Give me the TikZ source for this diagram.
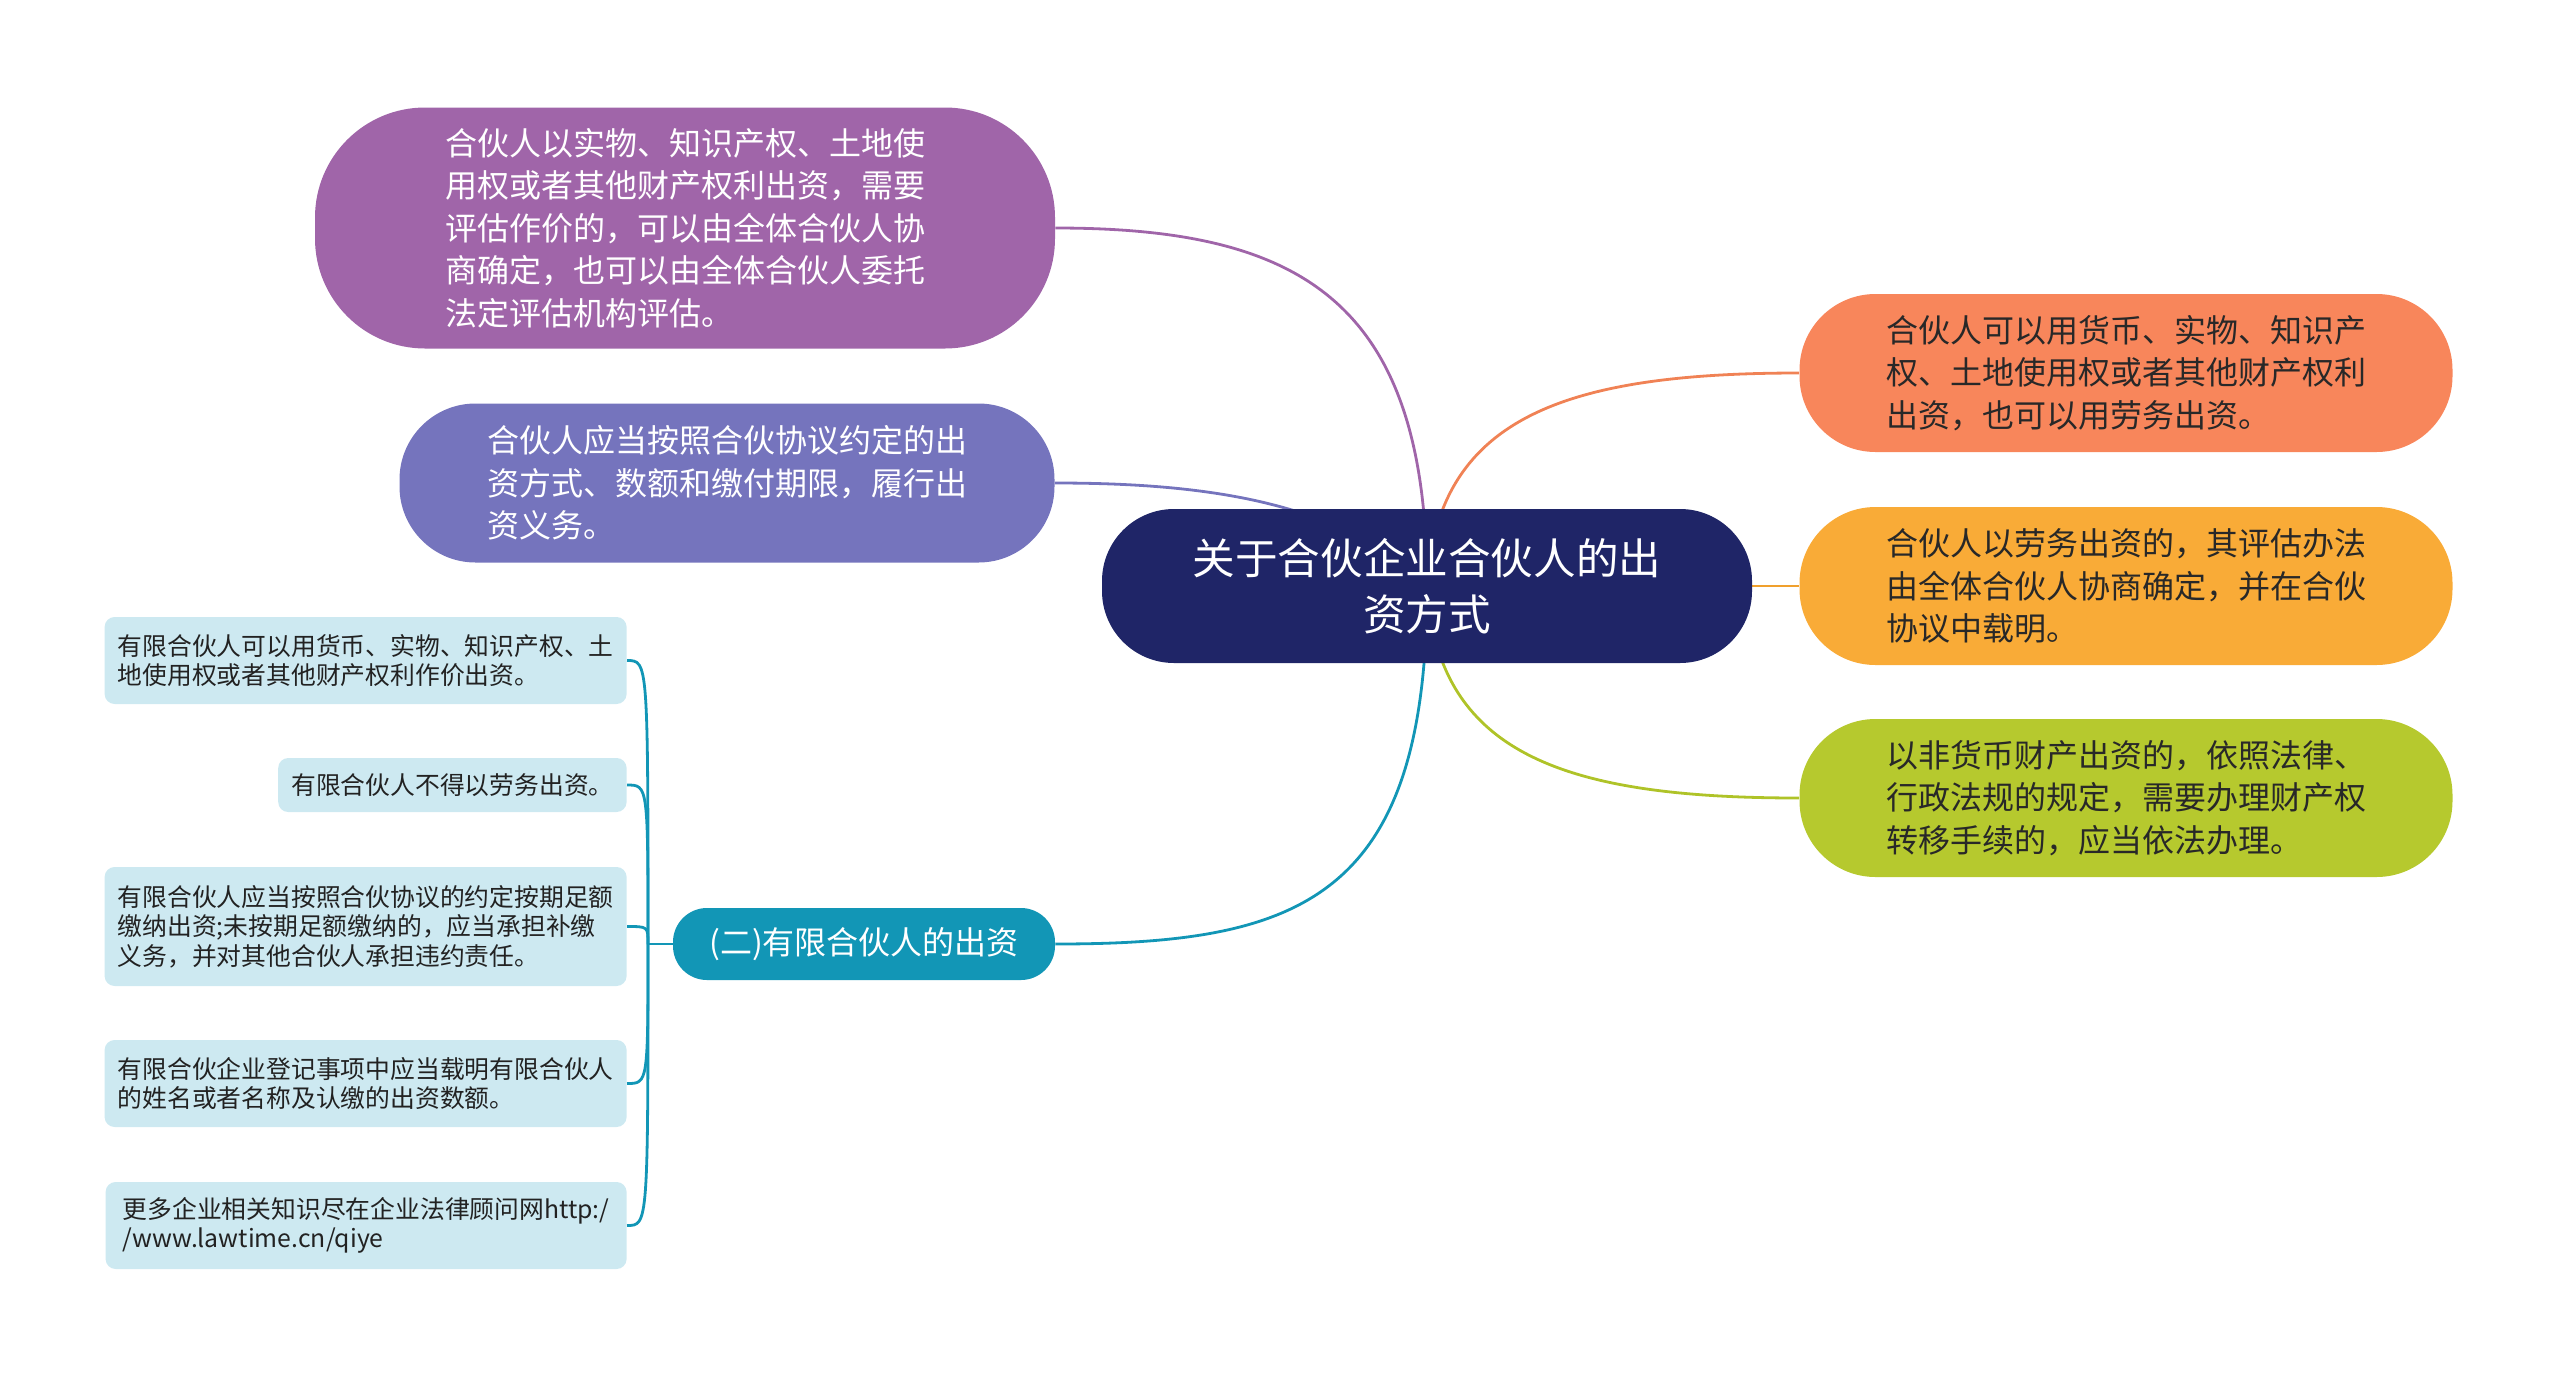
\documentclass[tikz,border=0pt]{standalone}
\usepackage{fontspec}
\setmainfont{Noto Sans CJK SC}
\usepackage{xcolor}
\usepackage{tikz}
\usetikzlibrary{backgrounds}

\begin{document}
\begin{tikzpicture}[x=0.5pt,y=0.5pt,yscale=-1,xscale=1,
  bubble/.style={rounded corners=38pt, inner sep=0pt, align=left, font=\fontsize{16pt}{21.25pt}\selectfont, minimum width=326.5pt, minimum height=79pt},
  leaf/.style={anchor=east, rounded corners=5pt, inner xsep=6.5pt, inner ysep=0pt, align=left, fill={rgb, 255:red, 205; green, 233; blue, 241 }, text={rgb, 255:red, 34; green, 34; blue, 34 }, font=\fontsize{12.4pt}{14.7pt}\selectfont, minimum width=260.5pt, minimum height=43.5pt},
  link/.style={line width=1.4pt}
]
\path [use as bounding box] (0,0) rectangle (2560,1377);

%Shape: Root
\node [bubble, align=center, minimum width=325pt, minimum height=77pt, rounded corners=36pt, fill={rgb, 255:red, 31; green, 37; blue, 103 }, text=white, font=\fontsize{21.3pt}{27.75pt}\selectfont] (root) at (1427,586) {关于合伙企业合伙人的出\\资方式};

%Shape: Left bubbles
\node [bubble, minimum width=370pt, minimum height=120.5pt, rounded corners=55pt, fill={rgb, 255:red, 160; green, 101; blue, 169 }, text=white] (wuzi) at (685,228) {合伙人以实物、知识产权、土地使\\用权或者其他财产权利出资，需要\\评估作价的，可以由全体合伙人协\\商确定，也可以由全体合伙人委托\\法定评估机构评估。};
\node [bubble, minimum width=327.5pt, minimum height=79.5pt, fill={rgb, 255:red, 117; green, 116; blue, 189 }, text=white] (yiwu) at (727,483) {合伙人应当按照合伙协议约定的出\\资方式、数额和缴付期限，履行出\\资义务。};
\node [bubble, minimum width=191pt, minimum height=36pt, rounded corners=17pt, fill={rgb, 255:red, 18; green, 150; blue, 182 }, text=white] (youxian) at (864,944) {(二)有限合伙人的出资};

%Shape: Right bubbles
\node [bubble, fill={rgb, 255:red, 248; green, 134; blue, 91 }, text={rgb, 255:red, 40; green, 40; blue, 40 }] (huobi) at (2126,373) {合伙人可以用货币、实物、知识产\\权、土地使用权或者其他财产权利\\出资，也可以用劳务出资。};
\node [bubble, fill={rgb, 255:red, 249; green, 171; blue, 55 }, text={rgb, 255:red, 40; green, 40; blue, 40 }] (laowu) at (2126,586) {合伙人以劳务出资的，其评估办法\\由全体合伙人协商确定，并在合伙\\协议中载明。};
\node [bubble, fill={rgb, 255:red, 182; green, 201; blue, 46 }, text={rgb, 255:red, 40; green, 40; blue, 40 }] (feihuobi) at (2126,798) {以非货币财产出资的，依照法律、\\行政法规的规定，需要办理财产权\\转移手续的，应当依法办理。};

% Text Node: leaves
\node [leaf] (lp1) at (627,660.5) {有限合伙人可以用货币、实物、知识产权、土\\地使用权或者其他财产权利作价出资。};
\node [leaf, minimum width=0pt, minimum height=27pt] (lp2) at (627,785) {有限合伙人不得以劳务出资。};
\node [leaf, minimum height=59.5pt] (lp3) at (627,926.5) {有限合伙人应当按照合伙协议的约定按期足额\\缴纳出资;未按期足额缴纳的，应当承担补缴\\义务，并对其他合伙人承担违约责任。};
\node [leaf] (lp4) at (627,1083.5) {有限合伙企业登记事项中应当载明有限合伙人\\的姓名或者名称及认缴的出资数额。};
\node [leaf] (lp5) at (627,1225.5) {更多企业相关知识尽在企业法律顾问网http:/\\/www.lawtime.cn/qiye};
\coordinate (hub) at (648,944);

\begin{scope}[on background layer]
%Curve Lines
\draw [link, color={rgb, 255:red, 160; green, 101; blue, 169 }] (root.center) .. controls (1427,300) and (1300,228) .. (wuzi.east);
\draw [link, color={rgb, 255:red, 117; green, 116; blue, 189 }] (root.center) .. controls (1340,500) and (1200,483) .. (yiwu.east);
\draw [link, color={rgb, 255:red, 18; green, 150; blue, 182 }] (root.center) .. controls (1427,900) and (1300,944) .. (youxian.east);
\draw [link, color={rgb, 255:red, 240; green, 130; blue, 85 }] (root.center) .. controls (1437,420) and (1560,373) .. (huobi.west);
\draw [link, color={rgb, 255:red, 240; green, 160; blue, 45 }] (root.center) -- (laowu.west);
\draw [link, color={rgb, 255:red, 175; green, 195; blue, 40 }] (root.center) .. controls (1437,752) and (1560,798) .. (feihuobi.west);
%Curve Lines: leaves
\draw [link, color={rgb, 255:red, 18; green, 150; blue, 182 }] (youxian.west) -- (hub);
\foreach \lp in {lp1,lp2,lp3,lp4,lp5}
  \draw [link, color={rgb, 255:red, 18; green, 150; blue, 182 }] (hub) .. controls (hub |- \lp.east) and (hub |- \lp.east) .. (\lp.east);
\end{scope}
\end{tikzpicture}
\end{document}
